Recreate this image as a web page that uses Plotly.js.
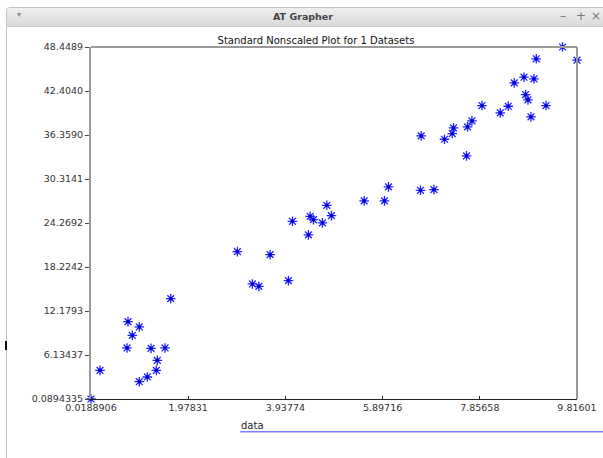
<!DOCTYPE html>
<html>
<head>
<meta charset="utf-8">
<script src="https://cdn.plot.ly/plotly-3.0.1.min.js"></script>
<style>
  html, body { margin:0; padding:0; background:#ffffff; width:603px; height:458px; overflow:hidden; }
  #win { position:absolute; left:6px; top:7px; width:620px; height:470px; border:1px solid #c4c4c4; border-radius:4px 4px 0 0; background:#ffffff; }
  #bar { position:absolute; left:0; top:0; right:0; height:18px; background:linear-gradient(#eeeeee,#dadada); border-bottom:1px solid #cfcfcf; border-radius:4px 4px 0 0; }
  #bar .t { position:absolute; left:0; width:592px; top:3px; text-align:center; font:bold 9.5px "DejaVu Sans"; color:#444444; }
  #bar .m { position:absolute; top:1px; font:12px "DejaVu Sans"; color:#777; }
  #bar .dd { position:absolute; left:10px; top:2px; font:8px "DejaVu Sans"; color:#888; }
  #grip { position:absolute; left:5px; top:341px; width:2px; height:9px; background:#111; }
  #plot { position:absolute; left:0; top:0; width:603px; height:458px; }
</style>
</head>
<body>
<div id="win">
  <div id="bar">
    <span class="dd">&#9662;</span>
    <span class="t">AT Grapher</span>
    <span class="m" style="left:553px">&#8211;</span>
    <span class="m" style="left:569px">+</span>
    <span class="m" style="left:584px">&#215;</span>
  </div>
</div>
<div id="grip"></div>
<div id="plot"></div>
<script>
const xVals = [0.0188906, 0.200, 0.765, 0.745, 0.852, 0.993, 0.993, 1.155, 1.229, 1.336,
               1.356, 1.511, 1.627, 2.970, 3.272, 3.402, 3.630, 3.999, 4.079, 4.402,
               4.436, 4.503, 4.684, 4.773, 4.866, 5.526, 5.935, 6.016, 6.661, 6.932,
               6.675, 7.145, 7.301, 7.327, 7.589, 7.609, 7.698, 7.900, 8.269, 8.430,
               8.551, 8.747, 8.779, 8.827, 8.888, 8.948, 8.995, 9.191, 9.525, 9.81601];
const yVals = [0.0894335, 4.021, 10.715, 7.100, 8.832, 9.987, 2.467, 3.114, 7.045, 4.021,
               5.395, 7.100, 13.877, 20.337, 15.897, 15.567, 19.925, 16.351, 24.502, 22.633,
               25.189, 24.736, 24.282, 26.702, 25.285, 27.307, 27.307, 29.231, 28.764, 28.860,
               36.241, 35.774, 36.558, 37.341, 33.492, 37.478, 38.303, 40.406, 39.403, 40.310,
               43.527, 44.297, 41.918, 41.190, 38.853, 44.077, 46.826, 40.406, 48.4489, 46.634];
const xTicks = [0.0188906, 1.97831, 3.93774, 5.89716, 7.85658, 9.81601];
const xTickText = ["0.0188906", "1.97831", "3.93774", "5.89716", "7.85658", "9.81601"];
const yTicks = [0.0894335, 6.13437, 12.1793, 18.2242, 24.2692, 30.3141, 36.3590, 42.4040, 48.4489];
const yTickText = ["0.0894335", "6.13437", "12.1793", "18.2242", "24.2692", "30.3141", "36.3590", "42.4040", "48.4489"];
const seriesName = "data";
const chartTitle = "Standard Nonscaled Plot for 1 Datasets";

const fnt = {family: "DejaVu Sans", size: 9.5, color: "#333333"};

const trace = {
  x: xVals, y: yVals, type: "scatter", mode: "markers", name: seriesName,
  cliponaxis: false, showlegend: false,
  marker: {symbol: "asterisk-open", size: 8, color: "#2020ff", line: {color: "#2020ff", width: 1.3}}
};
const centers = {
  x: xVals, y: yVals, type: "scatter", mode: "markers", cliponaxis: false, showlegend: false,
  marker: {symbol: "square", size: 3, color: "#0000cc", line: {width: 0}}
};

const layout = {
  width: 603, height: 458,
  margin: {l: 91, r: 26.3, t: 47.3, b: 58.7, pad: 0},
  paper_bgcolor: "rgba(0,0,0,0)", plot_bgcolor: "rgba(0,0,0,0)",
  showlegend: false,
  title: {text: chartTitle, font: {family: "DejaVu Sans", size: 10, color: "#111111"},
          x: 0.524, xanchor: "center", xref: "container", y: 1 - 40/458, yanchor: "middle", yref: "container"},
  xaxis: {
    range: [0.0188906, 9.81601], tickmode: "array", tickvals: xTicks, ticktext: xTickText,
    showgrid: false, zeroline: false, showline: true, linecolor: "#222222", linewidth: 1,
    ticks: "inside", ticklen: 3, tickcolor: "#222222", tickfont: fnt, fixedrange: true
  },
  yaxis: {
    range: [0.0894335, 48.4489], tickmode: "array", tickvals: yTicks, ticktext: yTickText,
    showgrid: false, zeroline: false, showline: true, linecolor: "#9a9a9a", linewidth: 2,
    ticks: "outside", ticklen: 4, tickcolor: "#444444", tickfont: fnt, fixedrange: true
  },
  shapes: [
    {type: "line", xref: "paper", yref: "paper", x0: 0, x1: 1, y0: 1, y1: 1, line: {color: "#9a9a9a", width: 2}},
    {type: "line", xref: "paper", yref: "paper", x0: 1, x1: 1, y0: 0, y1: 1, line: {color: "#9a9a9a", width: 2}},
    {type: "line", xref: "paper", yref: "paper", x0: (240-91)/485.7, x1: (610-91)/485.7,
     y0: (399.3-432)/352, y1: (399.3-432)/352, line: {color: "#7f7fff", width: 1.5}}
  ],
  annotations: [
    {text: seriesName, xref: "paper", yref: "paper", x: (239-91)/485.7, y: (399.3-426)/352,
     xanchor: "left", yanchor: "middle", showarrow: false, font: {family: "DejaVu Sans", size: 10, color: "#222222"}}
  ]
};

Plotly.newPlot("plot", [trace, centers], layout, {displayModeBar: false, staticPlot: true});
</script>
</body>
</html>
